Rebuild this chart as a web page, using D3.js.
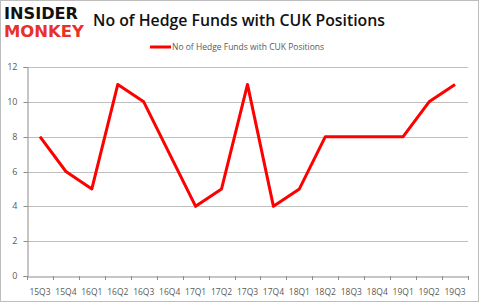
<!DOCTYPE html>
<html><head><meta charset="utf-8">
<script src="https://cdn.jsdelivr.net/npm/d3@7"></script>
<style>body{margin:0;background:#fff}svg{display:block}</style>
</head><body>
<script>
const categories = ["15Q3","15Q4","16Q1","16Q2","16Q3","16Q4","17Q1","17Q2","17Q3","17Q4","18Q1","18Q2","18Q3","18Q4","19Q1","19Q2","19Q3"];
const values = [8,6,5,11,10,7,4,5,11,4,5,8,8,8,8,10,11];
const yTicks = [0,2,4,6,8,10,12];
const seriesName = "No of Hedge Funds with CUK Positions";
const title = "No of Hedge Funds with CUK Positions";

const W = 479, H = 302;
const svg = d3.select("body").append("svg").attr("width", W).attr("height", H);
svg.append("rect").attr("x",0.5).attr("y",0.5).attr("width",W-1).attr("height",H-1)
  .attr("fill","#fff").attr("stroke","#bdbdbd");

const m = {left:27, right:468, top:67, bottom:276};
const x = d3.scaleBand().domain(categories).range([m.left, m.right]);
const y = d3.scaleLinear().domain([0,12]).range([m.bottom, m.top]);

// gridlines
svg.append("g").selectAll("line").data(yTicks.filter(d=>d>0)).join("line")
  .attr("x1", m.left).attr("x2", m.right)
  .attr("y1", d=>Math.round(y(d))+0.5).attr("y2", d=>Math.round(y(d))+0.5)
  .attr("stroke","#bfbfbf").attr("stroke-width",1);

// y axis
const yAxis = svg.append("g").attr("transform",`translate(${m.left+0.5},0)`)
  .call(d3.axisLeft(y).tickValues(yTicks).tickSize(4).tickPadding(6));
yAxis.select(".domain").attr("stroke","#8c8c8c");
yAxis.selectAll(".tick line").attr("stroke","#8c8c8c");
yAxis.selectAll("text").attr("fill","#595959").style("font-family","'Open Sans', Arial, sans-serif").style("font-size","9px");
yAxis.selectAll(".tick").attr("transform", d=>`translate(0,${Math.round(y(d))+0.5})`);

// x axis
const xAxis = svg.append("g").attr("transform",`translate(0,${m.bottom+0.5})`)
  .call(d3.axisBottom(x).tickSize(0).tickPadding(12));
xAxis.select(".domain").attr("stroke","#8c8c8c");
xAxis.selectAll("text").attr("fill","#595959").style("font-family","'Open Sans', Arial, sans-serif").style("font-size","8.5px");
// category boundary ticks
const bounds = categories.map(c=>x(c)).concat([m.right]);
svg.append("g").selectAll("line").data(bounds).join("line")
  .attr("x1", d=>Math.round(d)+0.5).attr("x2", d=>Math.round(d)+0.5)
  .attr("y1", m.bottom).attr("y2", m.bottom+4).attr("stroke","#8c8c8c");

// line
const line = d3.line().x((d,i)=>x(categories[i])+x.bandwidth()/2).y(d=>y(d));
svg.append("path").datum(values).attr("d", line)
  .attr("fill","none").attr("stroke","#ff0000").attr("stroke-width",3).attr("stroke-linejoin","round");

// title
svg.append("text").attr("x",93).attr("y",26).text(title)
  .attr("fill","#111").style("font-family","'Open Sans', Calibri, sans-serif").style("font-size","16.5px").style("font-weight","600")
  .attr("textLength",292).attr("lengthAdjust","spacingAndGlyphs");

// legend
svg.append("line").attr("x1",150).attr("x2",171).attr("y1",47).attr("y2",47)
  .attr("stroke","#ff0000").attr("stroke-width",3);
svg.append("text").attr("x",172).attr("y",50).text(seriesName)
  .attr("fill","#595959").style("font-family","'Open Sans', Arial, sans-serif").style("font-size","8.5px");

// logo
svg.append("text").attr("x",4).attr("y",19).text("INSIDER")
  .attr("fill","#111").style("font-family","'DejaVu Sans', sans-serif").style("font-weight","bold").style("font-size","15px")
  .attr("textLength",74).attr("lengthAdjust","spacingAndGlyphs");
svg.append("text").attr("x",4).attr("y",37).text("MONKEY")
  .attr("fill","#e8312a").style("font-family","'DejaVu Sans', sans-serif").style("font-weight","bold").style("font-size","15px")
  .attr("textLength",80).attr("lengthAdjust","spacingAndGlyphs");
</script>
</body></html>
